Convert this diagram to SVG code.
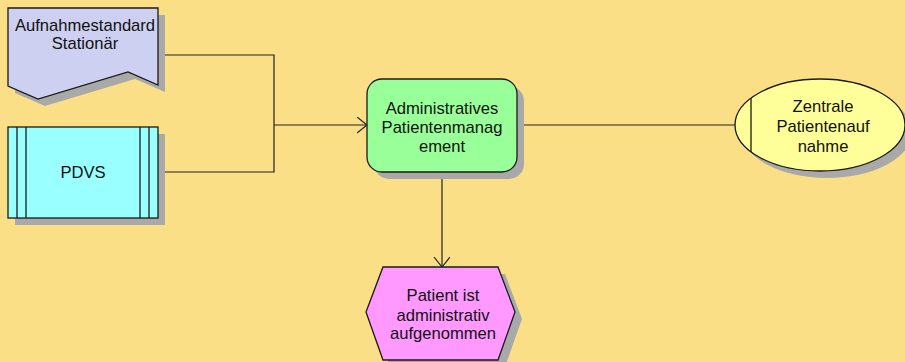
<svg xmlns="http://www.w3.org/2000/svg" width="905" height="362" viewBox="0 0 905 362">
<defs>
<style>
.sh{fill:#a9a9a9;stroke:none}
.nd{stroke:#1a1a1a;stroke-width:1.3}
.t{font-family:"Liberation Sans",Arial,sans-serif;font-size:16.6px;fill:#111;text-anchor:middle}
.c{fill:none;stroke:#222;stroke-width:1.2}
</style>
<marker id="ar" markerWidth="12" markerHeight="18" refX="10" refY="8" orient="auto" markerUnits="userSpaceOnUse">
<path d="M0,0 L10,8 L0,16" fill="none" stroke="#222" stroke-width="1.2"/>
</marker>
</defs>
<rect width="905" height="362" fill="#fbdf87"/>
<g id="connectors">
<polyline class="c" points="158,55 274,55 274,172 158,172"/>
<line class="c" x1="274" y1="125" x2="367" y2="125" marker-end="url(#ar)"/>
<line class="c" x1="517" y1="125" x2="735" y2="125"/>
<line class="c" x1="442" y1="172" x2="442" y2="267" marker-end="url(#ar)"/>
</g>
<g id="aufnahmestandard">
<path class="sh" d="M15,15 H165 V92 L135,79 L45,106 L15,93 Z"/>
<path class="nd" fill="#cdd0f0" d="M8,8 H158 V85 L128,72 L38,99 L8,86 Z"/>
<text class="t" x="85" y="31">Aufnahmestandard</text>
<text class="t" x="85" y="49">Stationär</text>
</g>
<g id="pdvs">
<rect class="sh" x="15" y="134" width="150" height="91"/>
<rect class="nd" fill="#99ffff" x="8" y="127" width="150" height="91"/>
<line class="nd" x1="17" y1="127" x2="17" y2="218"/>
<line class="nd" x1="26" y1="127" x2="26" y2="218"/>
<line class="nd" x1="140" y1="127" x2="140" y2="218"/>
<line class="nd" x1="149" y1="127" x2="149" y2="218"/>
<text class="t" x="83" y="178">PDVS</text>
</g>
<g id="patientenmanagement">
<rect class="sh" x="374" y="86" width="150" height="93" rx="15"/>
<rect class="nd" fill="#99ff99" x="367" y="79" width="150" height="93" rx="15"/>
<text class="t" x="442" y="114">Administratives</text>
<text class="t" x="442" y="133">Patientenmanag</text>
<text class="t" x="442" y="152">ement</text>
</g>
<g id="zentrale">
<ellipse class="sh" cx="827" cy="132" rx="85" ry="46"/>
<ellipse class="nd" fill="#ffff99" cx="820" cy="125" rx="85" ry="46"/>
<line class="nd" x1="751" y1="98" x2="751" y2="152"/>
<text class="t" x="823" y="112">Zentrale</text>
<text class="t" x="823" y="132">Patientenauf</text>
<text class="t" x="823" y="152">nahme</text>
</g>
<g id="ereignis">
<polygon class="sh" points="390,274 505,274 522,319 505,367 390,367 373,319"/>
<polygon class="nd" fill="#ff99ff" points="383,267 498,267 515,312 498,360 383,360 366,312"/>
<text class="t" x="443" y="301">Patient ist</text>
<text class="t" x="443" y="321">administrativ</text>
<text class="t" x="443" y="339">aufgenommen</text>
</g>
</svg>
